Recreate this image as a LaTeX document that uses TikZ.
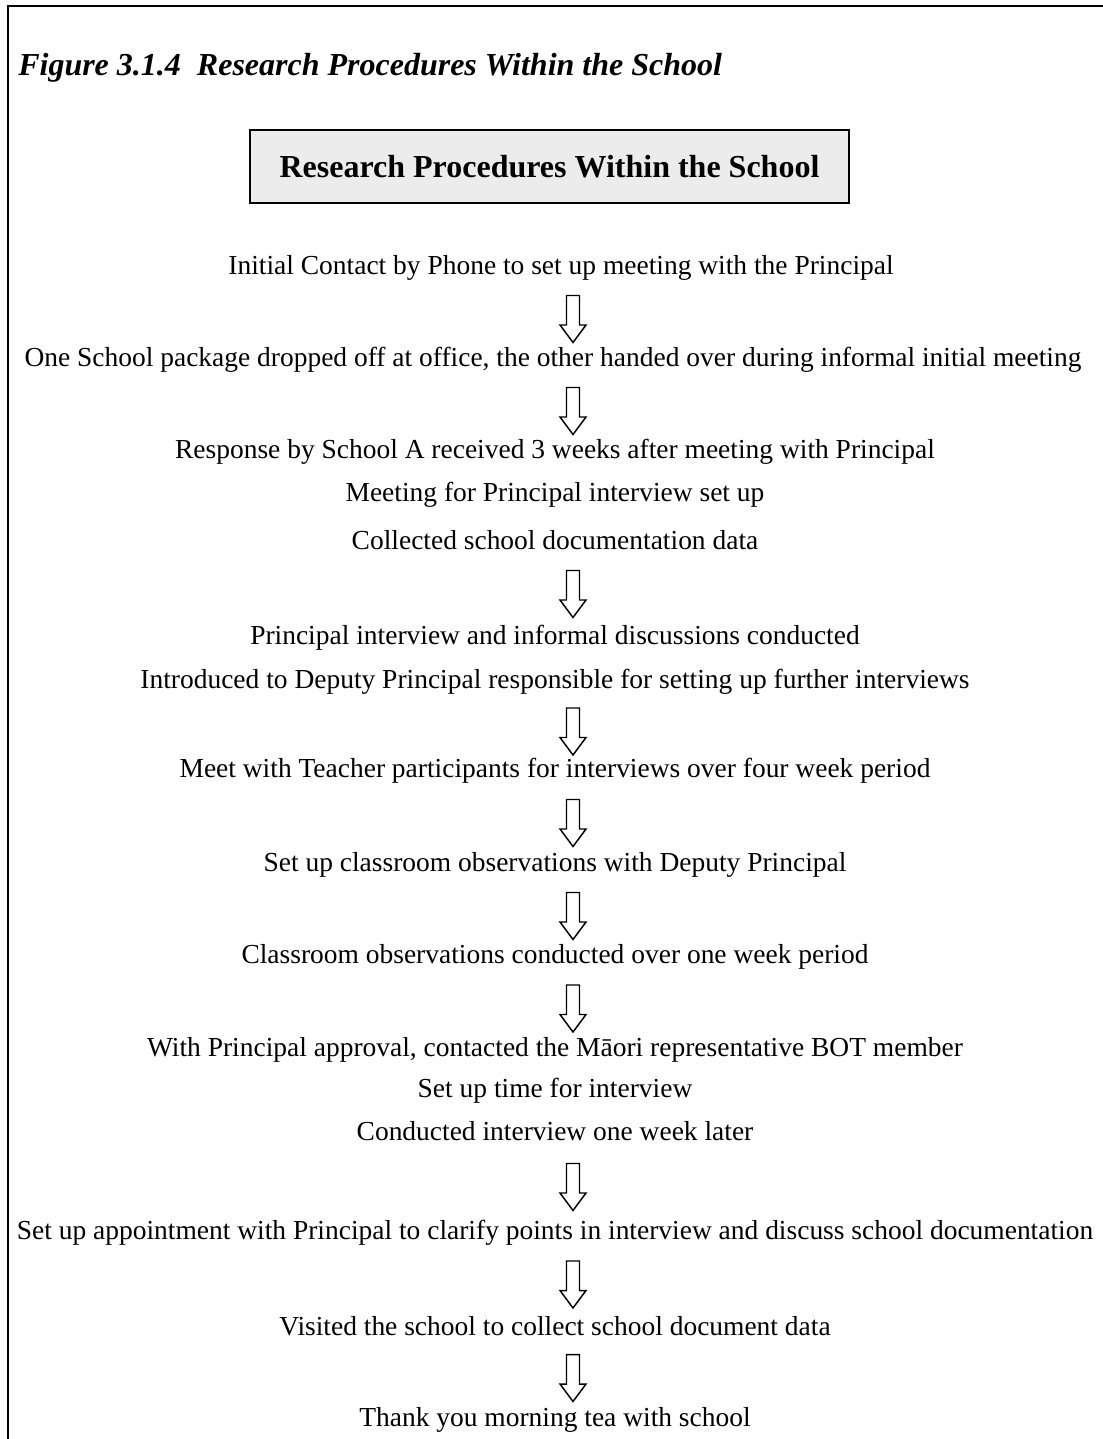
\documentclass[tikz,border=0pt]{standalone}
\usepackage{fontspec}
\setmainfont{Liberation Serif}
\usetikzlibrary{calc}

\begin{document}
\begin{tikzpicture}[
    x=0.75pt, y=-0.75pt,
    steptext/.style={font=\fontsize{20.6}{24}\selectfont},
    figcap/.style={font=\fontsize{24}{28}\selectfont\bfseries\itshape, anchor=west, inner sep=0pt},
    titlebox/.style={draw=black, line width=1.3pt, fill=gray!15, minimum width=449pt, minimum height=55pt, font=\fontsize{24}{28}\selectfont\bfseries},
    frameline/.style={line width=1.5pt, line cap=rect},
    arrowline/.style={draw=black, line width=1.1pt, fill=white, line join=miter},
    pics/flowarrow/.style={code={
        \draw[arrowline] (-6.5,-23.5) -- (6.5,-23.5) -- (6.5,6) -- (13,6) -- (0,23.5) -- (-13,6) -- (-6.5,6) -- cycle;
    }}
]
    \useasboundingbox (0,0) rectangle (1103,1439);

    % Cadre de la figure
    \draw[frameline] (8,1439) -- (8,6) -- (1103,6);

    % Titre
    \node[figcap] (caption) at (18,68) {Figure 3.1.4\ \ Research Procedures Within the School};
    \node[titlebox] (heading) at (549.5,166.5) {Research Procedures Within the School};

    % Etapes
    \node[steptext] (contact) at (561,268) {Initial Contact by Phone to set up meeting with the Principal};
    \node[steptext] (package) at (553,360) {One School package dropped off at office, the other handed over during informal initial meeting};
    \node[steptext] (response) at (555,452) {Response by School A received 3 weeks after meeting with Principal};
    \node[steptext] (meeting) at (555,495) {Meeting for Principal interview set up};
    \node[steptext] (collected) at (555,540) {Collected school documentation data};
    \node[steptext] (interview) at (555,638) {Principal interview and informal discussions conducted};
    \node[steptext] (deputy) at (555,682) {Introduced to Deputy Principal responsible for setting up further interviews};
    \node[steptext] (teachers) at (555,771) {Meet with Teacher participants for interviews over four week period};
    \node[steptext] (setobs) at (555,865) {Set up classroom observations with Deputy Principal};
    \node[steptext] (observations) at (555,957) {Classroom observations conducted over one week period};
    \node[steptext] (approval) at (555,1050) {With Principal approval, contacted the Māori representative BOT member};
    \node[steptext] (settime) at (555,1091) {Set up time for interview};
    \node[steptext] (conducted) at (555,1131) {Conducted interview one week later};
    \node[steptext] (appointment) at (555,1233) {Set up appointment with Principal to clarify points in interview and discuss school documentation};
    \node[steptext] (visited) at (555,1326) {Visited the school to collect school document data};
    \node[steptext] (thanks) at (555,1420) {Thank you morning tea with school};

    % Fleches
    \pic at ($(contact.center -| 573,0)!0.5!(package.center -| 573,0)+(0,5)$) {flowarrow};
    \pic at ($(package.center -| 573,0)!0.5!(response.center -| 573,0)+(0,5)$) {flowarrow};
    \pic at ($(collected.center -| 573,0)!0.5!(interview.center -| 573,0)+(0,5)$) {flowarrow};
    \pic at ($(deputy.center -| 573,0)!0.5!(teachers.center -| 573,0)+(0,5)$) {flowarrow};
    \pic at ($(teachers.center -| 573,0)!0.5!(setobs.center -| 573,0)+(0,5)$) {flowarrow};
    \pic at ($(setobs.center -| 573,0)!0.5!(observations.center -| 573,0)+(0,5)$) {flowarrow};
    \pic at ($(observations.center -| 573,0)!0.5!(approval.center -| 573,0)+(0,5)$) {flowarrow};
    \pic at ($(conducted.center -| 573,0)!0.5!(appointment.center -| 573,0)+(0,5)$) {flowarrow};
    \pic at ($(appointment.center -| 573,0)!0.5!(visited.center -| 573,0)+(0,5)$) {flowarrow};
    \pic at ($(visited.center -| 573,0)!0.5!(thanks.center -| 573,0)+(0,5)$) {flowarrow};

\end{tikzpicture}
\end{document}
